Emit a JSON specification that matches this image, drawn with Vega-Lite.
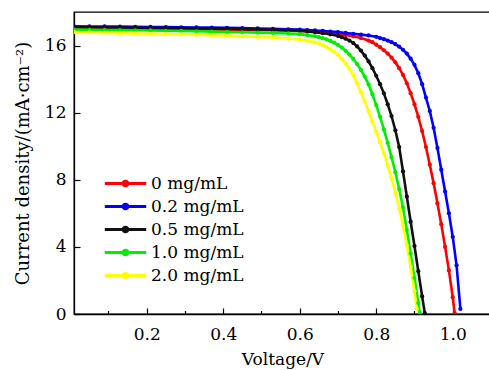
{
  "$schema": "https://vega.github.io/schema/vega-lite/v6.json",
  "autosize": "none",
  "width": 417,
  "height": 302,
  "padding": {"left": 74, "top": 12, "right": 0, "bottom": 56},
  "config": {
    "font": "DejaVu Serif",
    "view": {"stroke": "black", "strokeWidth": 1.3},
    "axis": {"grid": false, "domainColor": "black", "domainWidth": 1.3, "tickColor": "black", "tickWidth": 1.2, "labelColor": "black", "titleColor": "black", "labelFont": "DejaVu Serif", "titleFont": "DejaVu Serif", "labelFontSize": 17, "titleFontSize": 18, "titleFontWeight": "normal"}
  },
  "data": {"values": [
    {"c":"0 mg/mL","v":0.01,"j":17.05},{"c":"0 mg/mL","v":0.05,"j":17.04},{"c":"0 mg/mL","v":0.09,"j":17.03},{"c":"0 mg/mL","v":0.13,"j":17.02},{"c":"0 mg/mL","v":0.17,"j":17.01},{"c":"0 mg/mL","v":0.21,"j":17.0},{"c":"0 mg/mL","v":0.25,"j":16.99},{"c":"0 mg/mL","v":0.29,"j":16.98},{"c":"0 mg/mL","v":0.33,"j":16.97},{"c":"0 mg/mL","v":0.37,"j":16.96},{"c":"0 mg/mL","v":0.41,"j":16.95},{"c":"0 mg/mL","v":0.45,"j":16.94},{"c":"0 mg/mL","v":0.49,"j":16.93},{"c":"0 mg/mL","v":0.53,"j":16.91},{"c":"0 mg/mL","v":0.57,"j":16.89},{"c":"0 mg/mL","v":0.6,"j":16.87},{"c":"0 mg/mL","v":0.62,"j":16.85},{"c":"0 mg/mL","v":0.64,"j":16.82},{"c":"0 mg/mL","v":0.66,"j":16.79},{"c":"0 mg/mL","v":0.68,"j":16.75},{"c":"0 mg/mL","v":0.7,"j":16.7},{"c":"0 mg/mL","v":0.72,"j":16.63},{"c":"0 mg/mL","v":0.74,"j":16.55},{"c":"0 mg/mL","v":0.76,"j":16.45},{"c":"0 mg/mL","v":0.78,"j":16.3},{"c":"0 mg/mL","v":0.79,"j":16.2},{"c":"0 mg/mL","v":0.8,"j":16.05},{"c":"0 mg/mL","v":0.81,"j":15.9},{"c":"0 mg/mL","v":0.82,"j":15.72},{"c":"0 mg/mL","v":0.83,"j":15.52},{"c":"0 mg/mL","v":0.84,"j":15.28},{"c":"0 mg/mL","v":0.85,"j":15.0},{"c":"0 mg/mL","v":0.86,"j":14.65},{"c":"0 mg/mL","v":0.87,"j":14.25},{"c":"0 mg/mL","v":0.88,"j":13.75},{"c":"0 mg/mL","v":0.89,"j":13.15},{"c":"0 mg/mL","v":0.9,"j":12.5},{"c":"0 mg/mL","v":0.91,"j":11.75},{"c":"0 mg/mL","v":0.92,"j":10.9},{"c":"0 mg/mL","v":0.93,"j":9.95},{"c":"0 mg/mL","v":0.94,"j":8.9},{"c":"0 mg/mL","v":0.95,"j":7.8},{"c":"0 mg/mL","v":0.96,"j":6.6},{"c":"0 mg/mL","v":0.97,"j":5.35},{"c":"0 mg/mL","v":0.98,"j":4.0},{"c":"0 mg/mL","v":0.99,"j":2.6},{"c":"0 mg/mL","v":1.0,"j":1.0},{"c":"0 mg/mL","v":1.005,"j":0.05},
    {"c":"0.2 mg/mL","v":0.01,"j":17.15},{"c":"0.2 mg/mL","v":0.05,"j":17.14},{"c":"0.2 mg/mL","v":0.09,"j":17.14},{"c":"0.2 mg/mL","v":0.13,"j":17.13},{"c":"0.2 mg/mL","v":0.17,"j":17.12},{"c":"0.2 mg/mL","v":0.21,"j":17.11},{"c":"0.2 mg/mL","v":0.25,"j":17.1},{"c":"0.2 mg/mL","v":0.29,"j":17.09},{"c":"0.2 mg/mL","v":0.33,"j":17.08},{"c":"0.2 mg/mL","v":0.37,"j":17.07},{"c":"0.2 mg/mL","v":0.41,"j":17.06},{"c":"0.2 mg/mL","v":0.45,"j":17.04},{"c":"0.2 mg/mL","v":0.49,"j":17.02},{"c":"0.2 mg/mL","v":0.53,"j":17.0},{"c":"0.2 mg/mL","v":0.57,"j":16.97},{"c":"0.2 mg/mL","v":0.6,"j":16.95},{"c":"0.2 mg/mL","v":0.62,"j":16.92},{"c":"0.2 mg/mL","v":0.64,"j":16.9},{"c":"0.2 mg/mL","v":0.66,"j":16.87},{"c":"0.2 mg/mL","v":0.68,"j":16.83},{"c":"0.2 mg/mL","v":0.7,"j":16.8},{"c":"0.2 mg/mL","v":0.72,"j":16.75},{"c":"0.2 mg/mL","v":0.74,"j":16.7},{"c":"0.2 mg/mL","v":0.76,"j":16.65},{"c":"0.2 mg/mL","v":0.78,"j":16.6},{"c":"0.2 mg/mL","v":0.8,"j":16.52},{"c":"0.2 mg/mL","v":0.81,"j":16.45},{"c":"0.2 mg/mL","v":0.82,"j":16.38},{"c":"0.2 mg/mL","v":0.83,"j":16.3},{"c":"0.2 mg/mL","v":0.84,"j":16.2},{"c":"0.2 mg/mL","v":0.85,"j":16.08},{"c":"0.2 mg/mL","v":0.86,"j":15.93},{"c":"0.2 mg/mL","v":0.87,"j":15.75},{"c":"0.2 mg/mL","v":0.88,"j":15.52},{"c":"0.2 mg/mL","v":0.89,"j":15.22},{"c":"0.2 mg/mL","v":0.9,"j":14.85},{"c":"0.2 mg/mL","v":0.91,"j":14.35},{"c":"0.2 mg/mL","v":0.92,"j":13.7},{"c":"0.2 mg/mL","v":0.93,"j":12.9},{"c":"0.2 mg/mL","v":0.94,"j":12.1},{"c":"0.2 mg/mL","v":0.95,"j":11.1},{"c":"0.2 mg/mL","v":0.96,"j":9.9},{"c":"0.2 mg/mL","v":0.97,"j":8.6},{"c":"0.2 mg/mL","v":0.98,"j":7.3},{"c":"0.2 mg/mL","v":0.99,"j":6.0},{"c":"0.2 mg/mL","v":1.0,"j":4.6},{"c":"0.2 mg/mL","v":1.01,"j":2.9},{"c":"0.2 mg/mL","v":1.02,"j":0.3},
    {"c":"0.5 mg/mL","v":0.01,"j":17.1},{"c":"0.5 mg/mL","v":0.05,"j":17.09},{"c":"0.5 mg/mL","v":0.09,"j":17.08},{"c":"0.5 mg/mL","v":0.13,"j":17.07},{"c":"0.5 mg/mL","v":0.17,"j":17.06},{"c":"0.5 mg/mL","v":0.21,"j":17.05},{"c":"0.5 mg/mL","v":0.25,"j":17.04},{"c":"0.5 mg/mL","v":0.29,"j":17.03},{"c":"0.5 mg/mL","v":0.33,"j":17.02},{"c":"0.5 mg/mL","v":0.37,"j":17.01},{"c":"0.5 mg/mL","v":0.41,"j":17.0},{"c":"0.5 mg/mL","v":0.45,"j":16.98},{"c":"0.5 mg/mL","v":0.49,"j":16.96},{"c":"0.5 mg/mL","v":0.53,"j":16.94},{"c":"0.5 mg/mL","v":0.57,"j":16.91},{"c":"0.5 mg/mL","v":0.6,"j":16.88},{"c":"0.5 mg/mL","v":0.62,"j":16.84},{"c":"0.5 mg/mL","v":0.64,"j":16.8},{"c":"0.5 mg/mL","v":0.66,"j":16.74},{"c":"0.5 mg/mL","v":0.68,"j":16.67},{"c":"0.5 mg/mL","v":0.7,"j":16.57},{"c":"0.5 mg/mL","v":0.71,"j":16.5},{"c":"0.5 mg/mL","v":0.72,"j":16.41},{"c":"0.5 mg/mL","v":0.73,"j":16.3},{"c":"0.5 mg/mL","v":0.74,"j":16.15},{"c":"0.5 mg/mL","v":0.75,"j":15.95},{"c":"0.5 mg/mL","v":0.76,"j":15.7},{"c":"0.5 mg/mL","v":0.77,"j":15.4},{"c":"0.5 mg/mL","v":0.78,"j":15.05},{"c":"0.5 mg/mL","v":0.79,"j":14.65},{"c":"0.5 mg/mL","v":0.8,"j":14.2},{"c":"0.5 mg/mL","v":0.81,"j":13.7},{"c":"0.5 mg/mL","v":0.82,"j":13.15},{"c":"0.5 mg/mL","v":0.83,"j":12.5},{"c":"0.5 mg/mL","v":0.84,"j":11.8},{"c":"0.5 mg/mL","v":0.85,"j":10.95},{"c":"0.5 mg/mL","v":0.86,"j":9.95},{"c":"0.5 mg/mL","v":0.87,"j":8.5},{"c":"0.5 mg/mL","v":0.88,"j":7.0},{"c":"0.5 mg/mL","v":0.89,"j":5.5},{"c":"0.5 mg/mL","v":0.9,"j":4.05},{"c":"0.5 mg/mL","v":0.91,"j":2.55},{"c":"0.5 mg/mL","v":0.92,"j":1.05},{"c":"0.5 mg/mL","v":0.927,"j":0.05},
    {"c":"1.0 mg/mL","v":0.01,"j":16.95},{"c":"1.0 mg/mL","v":0.05,"j":16.94},{"c":"1.0 mg/mL","v":0.09,"j":16.93},{"c":"1.0 mg/mL","v":0.13,"j":16.92},{"c":"1.0 mg/mL","v":0.17,"j":16.91},{"c":"1.0 mg/mL","v":0.21,"j":16.9},{"c":"1.0 mg/mL","v":0.25,"j":16.88},{"c":"1.0 mg/mL","v":0.29,"j":16.87},{"c":"1.0 mg/mL","v":0.33,"j":16.85},{"c":"1.0 mg/mL","v":0.37,"j":16.83},{"c":"1.0 mg/mL","v":0.41,"j":16.81},{"c":"1.0 mg/mL","v":0.45,"j":16.79},{"c":"1.0 mg/mL","v":0.49,"j":16.77},{"c":"1.0 mg/mL","v":0.53,"j":16.75},{"c":"1.0 mg/mL","v":0.57,"j":16.72},{"c":"1.0 mg/mL","v":0.6,"j":16.68},{"c":"1.0 mg/mL","v":0.62,"j":16.62},{"c":"1.0 mg/mL","v":0.64,"j":16.55},{"c":"1.0 mg/mL","v":0.65,"j":16.5},{"c":"1.0 mg/mL","v":0.66,"j":16.44},{"c":"1.0 mg/mL","v":0.67,"j":16.37},{"c":"1.0 mg/mL","v":0.68,"j":16.28},{"c":"1.0 mg/mL","v":0.69,"j":16.17},{"c":"1.0 mg/mL","v":0.7,"j":16.04},{"c":"1.0 mg/mL","v":0.71,"j":15.88},{"c":"1.0 mg/mL","v":0.72,"j":15.69},{"c":"1.0 mg/mL","v":0.73,"j":15.46},{"c":"1.0 mg/mL","v":0.74,"j":15.2},{"c":"1.0 mg/mL","v":0.75,"j":14.9},{"c":"1.0 mg/mL","v":0.76,"j":14.55},{"c":"1.0 mg/mL","v":0.77,"j":14.15},{"c":"1.0 mg/mL","v":0.78,"j":13.68},{"c":"1.0 mg/mL","v":0.79,"j":13.1},{"c":"1.0 mg/mL","v":0.8,"j":12.45},{"c":"1.0 mg/mL","v":0.81,"j":11.75},{"c":"1.0 mg/mL","v":0.82,"j":11.0},{"c":"1.0 mg/mL","v":0.83,"j":10.2},{"c":"1.0 mg/mL","v":0.84,"j":9.35},{"c":"1.0 mg/mL","v":0.85,"j":8.45},{"c":"1.0 mg/mL","v":0.86,"j":7.45},{"c":"1.0 mg/mL","v":0.87,"j":6.35},{"c":"1.0 mg/mL","v":0.88,"j":5.0},{"c":"1.0 mg/mL","v":0.89,"j":3.6},{"c":"1.0 mg/mL","v":0.9,"j":2.15},{"c":"1.0 mg/mL","v":0.91,"j":0.65},{"c":"1.0 mg/mL","v":0.914,"j":0.05},
    {"c":"2.0 mg/mL","v":0.01,"j":16.8},{"c":"2.0 mg/mL","v":0.05,"j":16.78},{"c":"2.0 mg/mL","v":0.09,"j":16.76},{"c":"2.0 mg/mL","v":0.13,"j":16.74},{"c":"2.0 mg/mL","v":0.17,"j":16.72},{"c":"2.0 mg/mL","v":0.21,"j":16.7},{"c":"2.0 mg/mL","v":0.25,"j":16.68},{"c":"2.0 mg/mL","v":0.29,"j":16.66},{"c":"2.0 mg/mL","v":0.33,"j":16.64},{"c":"2.0 mg/mL","v":0.37,"j":16.61},{"c":"2.0 mg/mL","v":0.41,"j":16.58},{"c":"2.0 mg/mL","v":0.45,"j":16.55},{"c":"2.0 mg/mL","v":0.49,"j":16.52},{"c":"2.0 mg/mL","v":0.53,"j":16.48},{"c":"2.0 mg/mL","v":0.57,"j":16.42},{"c":"2.0 mg/mL","v":0.6,"j":16.36},{"c":"2.0 mg/mL","v":0.62,"j":16.29},{"c":"2.0 mg/mL","v":0.64,"j":16.19},{"c":"2.0 mg/mL","v":0.65,"j":16.12},{"c":"2.0 mg/mL","v":0.66,"j":16.03},{"c":"2.0 mg/mL","v":0.67,"j":15.92},{"c":"2.0 mg/mL","v":0.68,"j":15.79},{"c":"2.0 mg/mL","v":0.69,"j":15.63},{"c":"2.0 mg/mL","v":0.7,"j":15.44},{"c":"2.0 mg/mL","v":0.71,"j":15.21},{"c":"2.0 mg/mL","v":0.72,"j":14.94},{"c":"2.0 mg/mL","v":0.73,"j":14.62},{"c":"2.0 mg/mL","v":0.74,"j":14.22},{"c":"2.0 mg/mL","v":0.75,"j":13.75},{"c":"2.0 mg/mL","v":0.76,"j":13.22},{"c":"2.0 mg/mL","v":0.77,"j":12.66},{"c":"2.0 mg/mL","v":0.78,"j":12.08},{"c":"2.0 mg/mL","v":0.79,"j":11.48},{"c":"2.0 mg/mL","v":0.8,"j":10.87},{"c":"2.0 mg/mL","v":0.81,"j":10.24},{"c":"2.0 mg/mL","v":0.82,"j":9.58},{"c":"2.0 mg/mL","v":0.83,"j":8.88},{"c":"2.0 mg/mL","v":0.84,"j":8.1},{"c":"2.0 mg/mL","v":0.85,"j":7.24},{"c":"2.0 mg/mL","v":0.86,"j":6.3},{"c":"2.0 mg/mL","v":0.87,"j":5.25},{"c":"2.0 mg/mL","v":0.88,"j":4.1},{"c":"2.0 mg/mL","v":0.89,"j":2.8},{"c":"2.0 mg/mL","v":0.9,"j":1.35},{"c":"2.0 mg/mL","v":0.906,"j":0.3}
  ]},
  "mark": {"type": "line", "strokeWidth": 2.6, "clip": true, "point": {"filled": true, "size": 18}},
  "encoding": {
    "x": {
      "field": "v", "type": "quantitative",
      "scale": {"domain": [0.01, 1.1], "nice": false, "zero": false},
      "axis": {
        "title": "Voltage/V",
        "values": [0.1, 0.2, 0.3, 0.4, 0.5, 0.6, 0.7, 0.8, 0.9, 1.0],
        "labelExpr": "round(datum.value*10)%2==0 ? format(datum.value, '.1f') : ''",
        "tickSize": {"condition": {"test": "round(datum.value*10)%2==0", "value": -6}, "value": -3.5},
        "labelPadding": 18,
        "titleFontSize": 17,
        "titlePadding": 9
      }
    },
    "y": {
      "field": "j", "type": "quantitative",
      "scale": {"domain": [0, 18], "nice": false},
      "axis": {
        "title": "Current density/(mA·cm⁻²)",
        "values": [0, 4, 8, 12, 16],
        "tickSize": -6,
        "labelPadding": 14,
        "titlePadding": 12
      }
    },
    "color": {
      "field": "c", "type": "nominal",
      "scale": {"domain": ["0 mg/mL", "0.2 mg/mL", "0.5 mg/mL", "1.0 mg/mL", "2.0 mg/mL"], "range": ["#ff0000", "#0000ff", "#111111", "#00ee00", "#ffff00"]},
      "legend": {
        "title": null,
        "orient": "none",
        "legendX": 43,
        "legendY": 163,
        "symbolType": "M-4.37,0H4.37M-0.5,0A0.5,0.5 0 1,0 0.5,0A0.5,0.5 0 1,0 -0.5,0",
        "symbolSize": 90,
        "symbolStrokeWidth": 3,
        "labelFont": "DejaVu Serif",
        "labelFontSize": 17,
        "labelColor": "black",
        "labelOffset": 17,
        "rowPadding": 5
      }
    }
  }
}
